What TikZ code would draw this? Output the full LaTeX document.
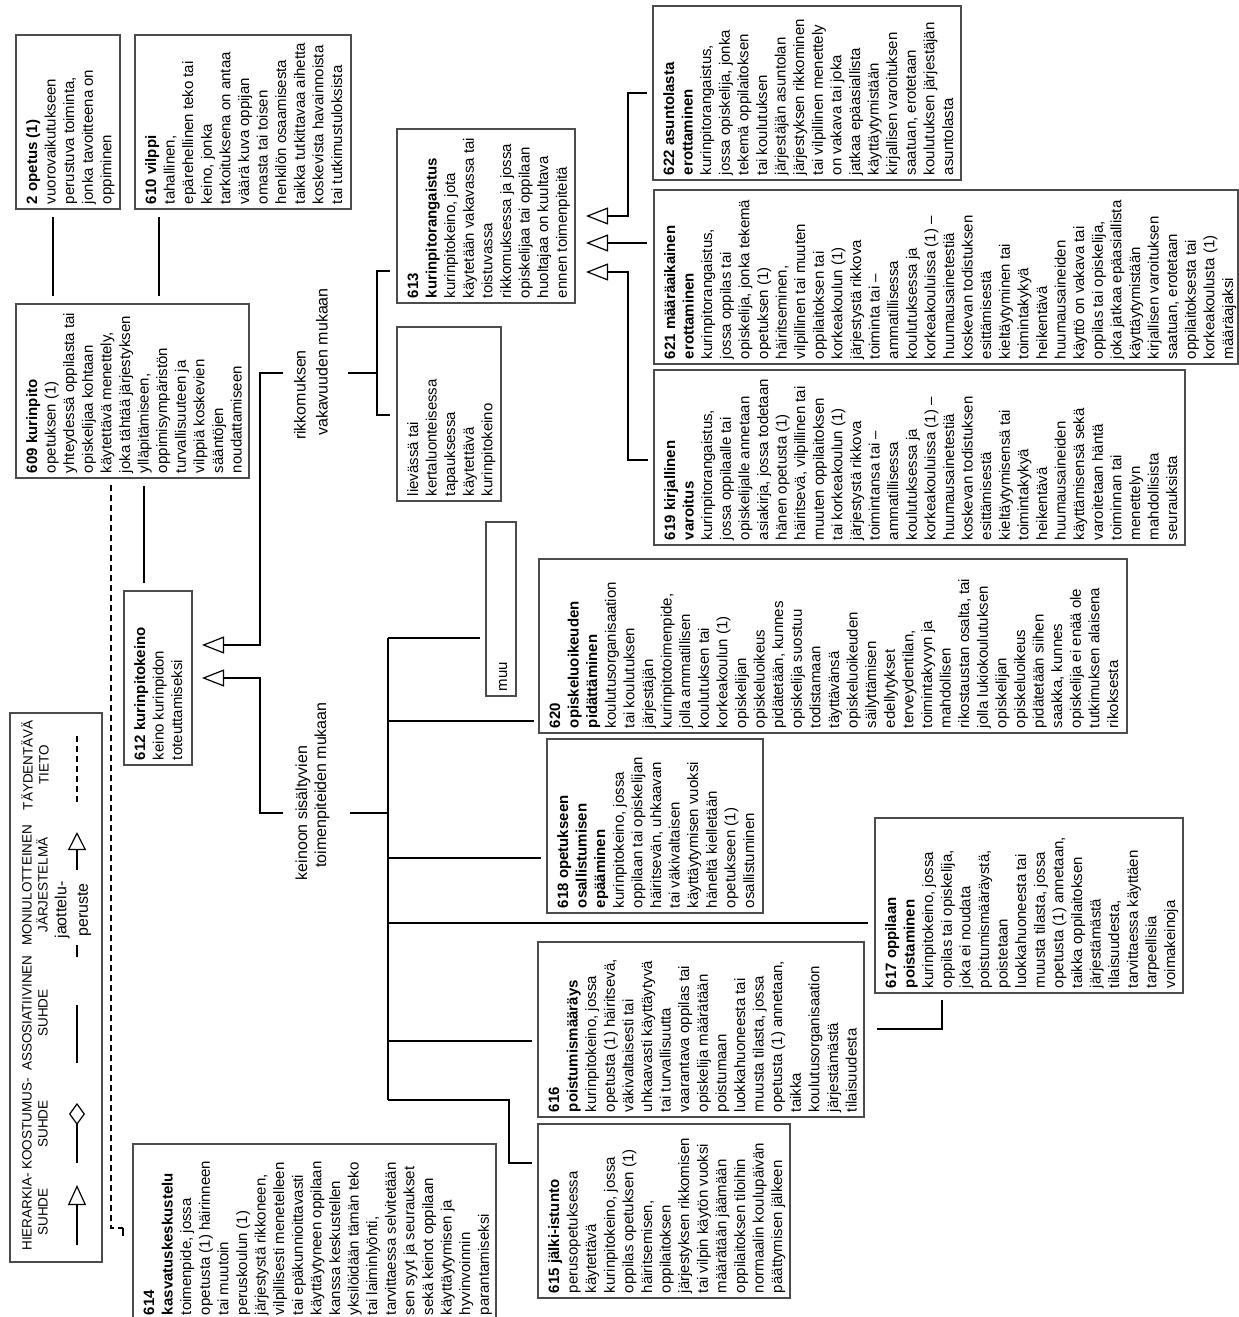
\documentclass[tikz,border=0pt]{standalone}
\usepackage{fontspec}
\setmainfont{Liberation Sans}
\usetikzlibrary{arrows.meta,calc}
\newcommand\boxfont{\fontsize{15}{18.6}\selectfont}
\newcommand\labfont{\fontsize{16}{21.7}\selectfont}
\newcommand\legfont{\fontsize{13.5}{16}\selectfont}
% #1 name, #2 xL, #3 xR, #4 yT, #5 yB, #6 text
\newcommand\mybox[6]{%
  \pgfmathsetmacro\bw{#5-#4-10}%
  \pgfmathsetmacro\bh{#3-#2-12}%
  \node[boxst, anchor=north west] (#1) at (#2,#5)
    {\parbox[t][\bh pt][t]{\bw pt}{\boxfont\raggedright\rule{0pt}{15pt}#6}};}
\begin{document}
\begin{tikzpicture}[x=1pt,y=-1pt,
  boxst/.style={draw=black!70, line width=1.2pt, rotate=90, inner xsep=5pt, inner ysep=6pt, outer sep=0pt, font=\boxfont},
  conn/.style={line width=1.2pt, black},
  trunk/.style={line width=2.2pt, black},
  lab/.style={rotate=90, inner sep=0pt, font=\labfont},
  legt/.style={rotate=90, inner sep=0pt, align=center, font=\legfont},
  hier/.style={-{Triangle[open, length=22pt, width=17pt]}},
  dsh/.style={line width=1.2pt, dash pattern=on 6pt off 4pt}]
\fill[white] (0,0) rectangle (1239,1317);
\useasboundingbox (0,0) rectangle (1239,1317);

% ---------- boxes ----------
\mybox{n2}{16}{120}{35}{209}{\textbf{2 opetus (1)}\\vuorovaikutukseen\\perustuva toiminta,\\jonka tavoitteena on\\oppiminen}
\mybox{n610}{135}{351}{35}{209}{\textbf{610 vilppi}\\tahallinen,\\epärehellinen teko tai\\keino, jonka\\tarkoituksena on antaa\\väärä kuva oppijan\\omasta tai toisen\\henkilön osaamisesta\\taikka tutkittavaa aihetta\\koskevista havainnoista\\tai tutkimustuloksista}
\mybox{n609}{16}{249}{304}{478}{\textbf{609 kurinpito}\\opetuksen (1)\\yhteydessä oppilasta tai\\opiskelijaa kohtaan\\käytettävä menettely,\\joka tähtää järjestyksen\\ylläpitämiseen,\\oppimisympäristön\\turvallisuuteen ja\\vilppiä koskevien\\sääntöjen\\noudattamiseen}
\mybox{n612}{124}{192}{591}{765}{\textbf{612 kurinpitokeino}\\keino kurinpidon\\toteuttamiseksi}
\mybox{n613}{397}{575}{129}{303}{\textbf{613}\\\textbf{kurinpitorangaistus}\\kurinpitokeino, jota\\käytetään vakavassa tai\\toistuvassa\\rikkomuksessa ja jossa\\opiskelijaa tai oppilaan\\huoltajaa on kuultava\\ennen toimenpiteitä}
\mybox{nliev}{397}{501}{327}{501}{lievässä tai\\kertaluonteisessa\\tapauksessa\\käytettävä\\kurinpitokeino}
\mybox{n622}{653}{961}{6}{180}{\textbf{622 asuntolasta}\\\textbf{erottaminen}\\kurinpitorangaistus,\\jossa opiskelija, jonka\\tekemä oppilaitoksen\\tai koulutuksen\\järjestäjän asuntolan\\järjestyksen rikkominen\\tai vilpillinen menettely\\on vakava tai joka\\jatkaa epäasiallista\\käyttäytymistään\\kirjallisen varoituksen\\saatuan, erotetaan\\koulutuksen järjestäjän\\asuntolasta}
\mybox{n621}{654}{1238}{190}{364}{\textbf{621 määräaikainen}\\\textbf{erottaminen}\\kurinpitorangaistus,\\jossa oppilas tai\\opiskelija, jonka tekemä\\opetuksen (1)\\häiritseminen,\\vilpillinen tai muuten\\oppilaitoksen tai\\korkeakoulun (1)\\järjestystä rikkova\\toiminta tai –\\ammatillisessa\\koulutuksessa ja\\korkeakouluissa (1) –\\huumausainetestiä\\koskevan todistuksen\\esittämisestä\\kieltäytyminen tai\\toimintakykyä\\heikentävä\\huumausaineiden\\käyttö on vakava tai\\oppilas tai opiskelija,\\joka jatkaa epäasiallista\\käyttäytymistään\\kirjallisen varoituksen\\saatuan, erotetaan\\oppilaitoksesta tai\\korkeakoulusta (1)\\määräajaksi}
\mybox{n619}{654}{1185}{370}{545}{\textbf{619 kirjallinen}\\\textbf{varoitus}\\kurinpitorangaistus,\\jossa oppilaalle tai\\opiskelijalle annetaan\\asiakirja, jossa todetaan\\hänen opetusta (1)\\häiritsevä, vilpillinen tai\\muuten oppilaitoksen\\tai korkeakoulun (1)\\järjestystä rikkova\\toimintansa tai –\\ammatillisessa\\koulutuksessa ja\\korkeakouluissa (1) –\\huumausainetestiä\\koskevan todistuksen\\esittämisestä\\kieltäytymisensä tai\\toimintakykyä\\heikentävä\\huumausaineiden\\käyttämisensä sekä\\varoitetaan häntä\\toiminnan tai\\menettelyn\\mahdollisista\\seurauksista}
\mybox{nmuu}{486}{516}{522}{696}{muu}
\mybox{n620}{539}{1127}{559}{733}{\textbf{620}\\\textbf{opiskeluoikeuden}\\\textbf{pidättäminen}\\koulutusorganisaation\\tai koulutuksen\\järjestäjän\\kurinpitotoimenpide,\\jolla ammatillisen\\koulutuksen tai\\korkeakoulun (1)\\opiskelijan\\opiskeluoikeus\\pidätetään, kunnes\\opiskelija suostuu\\todistamaan\\täyttävänsä\\opiskeluoikeuden\\säilyttämisen\\edellytykset\\terveydentilan,\\toimintakyvyn ja\\mahdollisen\\rikostaustan osalta, tai\\jolla lukiokoulutuksen\\opiskelijan\\opiskeluoikeus\\pidätetään siihen\\saakka, kunnes\\opiskelija ei enää ole\\tutkimuksen alaisena\\rikoksesta}
\mybox{n618}{547}{763}{739}{913}{\textbf{618 opetukseen}\\\textbf{osallistumisen}\\\textbf{epääminen}\\kurinpitokeino, jossa\\oppilaan tai opiskelijan\\häiritsevän, uhkaavan\\tai väkivaltaisen\\käyttäytymisen vuoksi\\häneltä kielletään\\opetukseen (1)\\osallistuminen}
\mybox{n617}{875}{1183}{818}{993}{\textbf{617 oppilaan}\\\textbf{poistaminen}\\kurinpitokeino, jossa\\oppilas tai opiskelija,\\joka ei noudata\\poistumismääräystä,\\poistetaan\\luokkahuoneesta tai\\muusta tilasta, jossa\\opetusta (1) annetaan,\\taikka oppilaitoksen\\järjestämästä\\tilaisuudesta,\\tarvittaessa käyttäen\\tarpeellisia\\voimakeinoja}
\mybox{n616}{538}{864}{942}{1117}{\textbf{616}\\\textbf{poistumismääräys}\\kurinpitokeino, jossa\\opetusta (1) häiritsevä,\\väkivaltaisesti tai\\uhkaavasti käyttäytyvä\\tai turvallisuutta\\vaarantava oppilas tai\\opiskelija määrätään\\poistumaan\\luokkahuoneesta tai\\muusta tilasta, jossa\\opetusta (1) annetaan,\\taikka\\koulutusorganisaation\\järjestämästä\\tilaisuudesta}
\mybox{n615}{538}{790}{1124}{1298}{\textbf{615 jälki-istunto}\\perusopetuksessa\\käytettävä\\kurinpitokeino, jossa\\oppilas opetuksen (1)\\häiritsemisen,\\oppilaitoksen\\järjestyksen rikkomisen\\tai vilpin käytön vuoksi\\määrätään jäämään\\oppilaitoksen tiloihin\\normaalin koulupäivän\\päättymisen jälkeen}
\mybox{n614}{133}{496}{1144}{1320}{\textbf{614}\\\textbf{kasvatuskeskustelu}\\toimenpide, jossa\\opetusta (1) häirinneen\\tai muutoin\\peruskoulun (1)\\järjestystä rikkoneen,\\vilpillisesti menetelleen\\tai epäkunnioittavasti\\käyttäytyneen oppilaan\\kanssa keskustellen\\yksilöidään tämän teko\\tai laiminlyönti,\\tarvittaessa selvitetään\\sen syyt ja seuraukset\\sekä keinot oppilaan\\käyttäytymisen ja\\hyvinvoinnin\\parantamiseksi}

% ---------- division labels ----------
\node[lab] (labR1) at (300,395) {rikkomuksen};
\node[lab] (labR2) at (322,362) {vakavuuden mukaan};
\node[lab] (labK1) at (303,813) {keinoon sisältyvien};
\node[lab] (labK2) at (322,785) {toimenpiteiden mukaan};
\coordinate (rL) at (283,373);
\coordinate (rR) at (348,373);
\coordinate (kL) at (283,813);
\coordinate (kR) at (350,813);

% ---------- connectors ----------
\draw[conn, shorten <=8pt, shorten >=8pt] (n2.west -| 53,0) -- (n609.east -| 53,0);
\draw[conn, shorten <=8pt, shorten >=8pt] (n610.west -| 159,0) -- (n609.east -| 159,0);
\draw[conn, shorten <=8pt, shorten >=8pt] (n609.west -| 144,0) -- (n612.east -| 144,0);
\draw[dsh] ($(n609.west -| 111,0)+(0,7)$) -- (111,1228) -- (123,1228);
\draw[conn] (123,1228) -- (123,1236);

\draw[conn, hier, shorten >=10pt] (rL) -- (260,373) |- (n612.south |- 0,645);
\draw[conn, hier, shorten >=10pt] (kL) -- (260,813) |- (n612.south);

\draw[conn] (rR) -- (377,373);
\draw[conn, shorten <=7pt, shorten >=7pt] (n613.north |- 0,271) -| (377,343) |- (nliev.north |- 0,415);

\draw[trunk] (kR) -- (388,813);
\draw[conn] (388,638) -- (388,1100);
\draw[trunk] (388,721) -- (388,1041);
\draw[conn, shorten >=6pt] (388,638) -- (nmuu.north |- 0,638);
\draw[conn, shorten >=5pt] (388,721) -- (n620.north |- 0,721);
\draw[conn, shorten >=6pt] (388,858) -- (n618.north |- 0,858);
\draw[conn, shorten >=7pt] (388,923) -- (n617.north |- 0,923);
\draw[conn, shorten >=6pt] (388,1041) -- (n616.north |- 0,1041);
\draw[conn, shorten >=6pt] (388,1100) -| (509,1163) -- (n615.north |- 0,1163);
\draw[conn] ($(n617.west -| 942,0)+(0,7)$) |- (877,1029);

\draw[conn, hier, shorten <=6pt, shorten >=11pt] (n622.north |- 0,93) -| (628,150) |- (n613.south |- 0,216);
\draw[conn, hier, shorten <=7pt, shorten >=11pt] (n621.north |- 0,243) -- (n613.south |- 0,243);
\draw[conn, hier, shorten <=6pt, shorten >=11pt] (n619.north |- 0,460) -| (628,350) |- (n613.south |- 0,272);

% ---------- legend ----------
\node[draw=black!70, line width=1.2pt, rotate=90, minimum width=549pt, minimum height=92pt, inner sep=0pt, outer sep=0pt, anchor=north west] (leg) at (10,1262) {};
\node[legt] (h1) at (35,1212) {HIERARKIA-\\SUHDE};
\node[legt] (h2) at (35,1124) {KOOSTUMUS-\\SUHDE};
\node[legt] (h3) at (35,1013) {ASSOSIATIIVINEN\\SUHDE};
\node[legt] (h4) at (35,885) {MONIULOTTEINEN\\JÄRJESTELMÄ};
\node[legt] (h5) at (35,765) {TÄYDENTÄVÄ\\TIETO};
\draw[conn, -{Triangle[open, length=20pt, width=18pt]}] (77,1245) -- (77,1185);
\draw[conn, -{Diamond[open, length=22pt, width=16pt]}] (77,1163) -- (77,1103);
\draw[conn] (77,1063) -- (77,1005);
\draw[conn] (77,957) -- (77,945);
\node[legt, font=\labfont] (jao) at (73,910) {jaottelu-\\peruste};
\draw[conn, -{Triangle[open, length=18pt, width=18pt]}] (77,870) -- (77,832);
\draw[dsh] (77,802) -- (77,733);
\end{tikzpicture}
\end{document}
